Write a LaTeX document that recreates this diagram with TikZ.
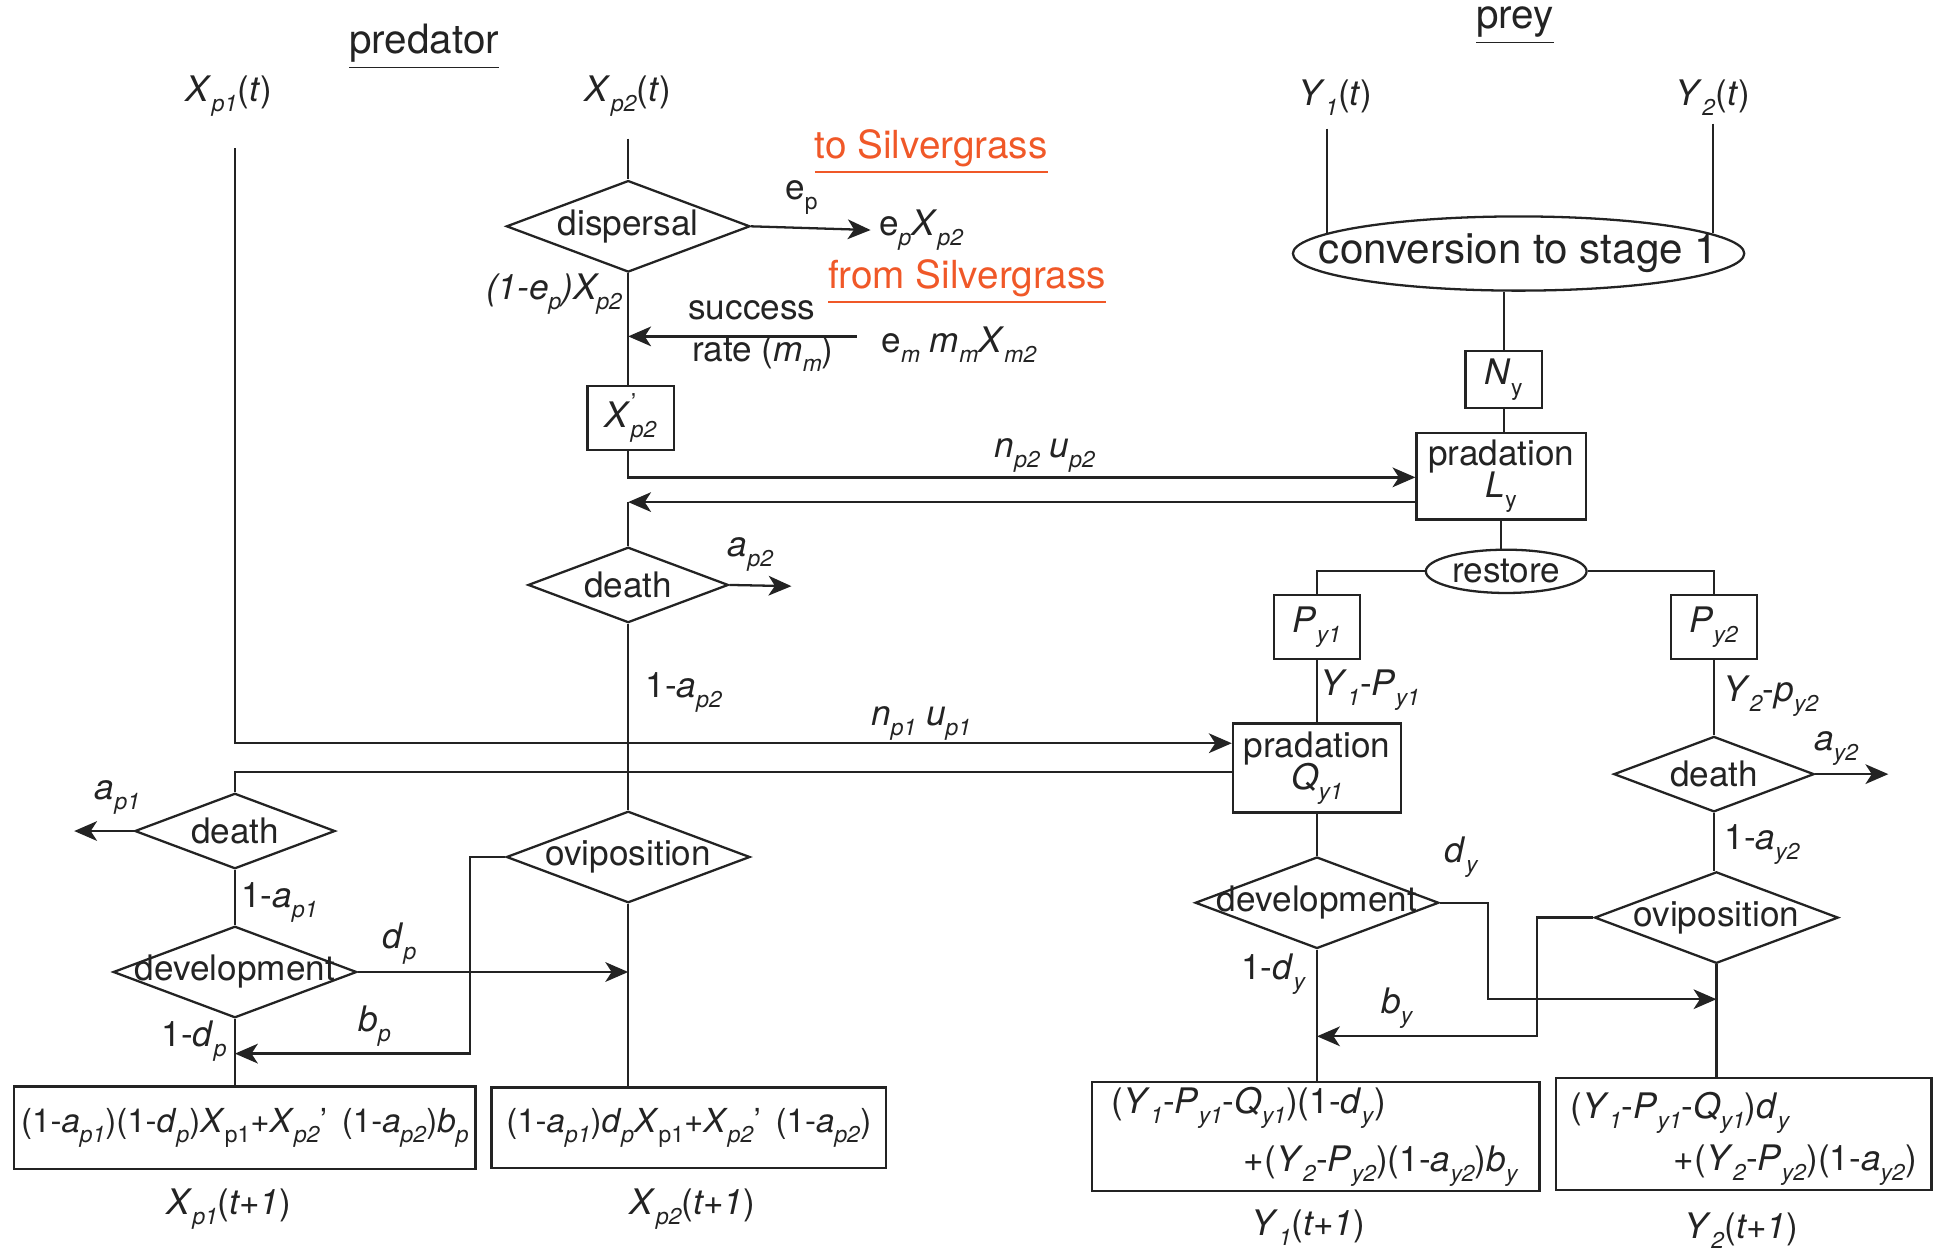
\documentclass[tikz,border=0pt]{standalone}
\usepackage{fontspec}
\setmainfont{TeX Gyre Heros}
\usetikzlibrary{shapes.geometric,arrows.meta,calc}
\newdimen\pu \pu=0.012366cm
\definecolor{silv}{RGB}{240,88,40}
\definecolor{ink}{RGB}{35,35,35}
\newcommand{\sbs}[1]{\raisebox{-0.55ex}{\fontsize{6.5}{7}\selectfont\textit{#1}}}
\newcommand{\sbu}[1]{\raisebox{-0.55ex}{\fontsize{6.5}{7}\selectfont #1}}
\newcommand{\iv}[2]{\textit{#1}\sbs{#2}}
\newcommand{\ivu}[2]{\textit{#1}\sbu{#2}}
\newcommand{\zb}[1]{\makebox[0pt]{#1}}
\newcommand{\xpr}{\textit{X}\rlap{\raisebox{0.9ex}{\fontsize{7}{8}\selectfont '}}\sbs{p2}}
\begin{document}
\begin{tikzpicture}[x=\pu,y=-\pu,line width=0.65pt,color=ink,
  every node/.style={inner sep=0pt,font=\fontsize{10}{12}\selectfont},
  bigdia/.style={diamond,draw,minimum width=197\pu,minimum height=74\pu},
  smalldia/.style={diamond,draw,minimum width=162\pu,minimum height=61\pu},
  rbox/.style={rectangle,draw},
  fbox/.style={rectangle,draw,font=\fontsize{9.4}{11}\selectfont},
  arr/.style={-{Stealth[length=6.5pt,width=5.6pt,inset=1.8pt]}},
  ttl/.style={font=\fontsize{11.5}{13}\selectfont},
  sg/.style={text=silv,font=\fontsize{11}{13}\selectfont}]
\useasboundingbox (0,0) rectangle (1568,1015);

% titles
\node[ttl] (tpred) at (343,38) {\underline{predator}};
\node[ttl] (tprey) at (1225,21) {\underline{prey}};

% initial populations
\node (xp1t) at (185,78) {\iv{X}{p1}(\textit{t})};
\node (xp2t) at (508,78) {\iv{X}{p2}(\textit{t})};
\node (y1t) at (1080,79) {\iv{Y}{1}(\textit{t})};
\node (y2t) at (1385,79) {\iv{Y}{2}(\textit{t})};
\coordinate (xp1top) at (190,120);
\coordinate (xp2top) at (508,112);
\coordinate (y1top) at (1073,104);
\coordinate (y2top) at (1385,100);

% ---------- predator stage 2 chain ----------
\node[bigdia] (disp) at (508,183) {\zb{dispersal}};
\draw (xp2top) -- (disp.north);
\node[anchor=west] (epx) at (710,186) {e\sbs{p}\iv{X}{p2}};
\draw[arr] (disp.east) -- ($(epx.west)+(-6,0)$);
\node (eplab) at (648,160) {e\sbu{p}};
\node[sg] (tosg) at (753,123) {\underline{to Silvergrass}};
\node[sg] (fromsg) at (782,228) {\underline{from Silvergrass}};
\node (oneep) at (448,238) {\textit{(1-e\sbs{p})X\sbs{p2}}};

\node[rbox,minimum width=70\pu,minimum height=52\pu] (xpp) at (510,338) {\xpr};
\draw (disp.south) -- (disp.south |- xpp.north);

\coordinate (srs) at (693,272);
\draw[arr] (srs) -- (srs -| disp.south);
\node (succ) at (608,251) {success};
\node (rate) at (617,286) {rate (\iv{m}{m})};
\node[anchor=west] (emx) at (712,279) {e\sbs{m} \iv{m}{m}\iv{X}{m2}};

% predation L
\node[rbox,minimum width=137\pu,minimum height=70\pu,align=center] (predL) at (1214,385) {pradation\\[-3pt]\ivu{L}{y}};
\draw[arr] (disp.south |- xpp.south) |- ($(predL.west)+(0,1)$);
\node (np2) at (845,368) {\iv{n}{p2} \iv{u}{p2}};
\coordinate (retp) at (508,406);
\draw[arr] ($(predL.west)+(0,21)$) -- (retp);

\node[smalldia] (dp2) at (508,473) {\zb{death}};
\draw (retp) -- (dp2.north);
\coordinate (ap2end) at (640,474);
\draw[arr] (dp2.east) -- (ap2end);
\node (ap2) at (607,448) {\iv{a}{p2}};

\node[bigdia] (ovp) at (508,693) {\zb{oviposition}};
\draw (dp2.south) -- (ovp.north);
\node (oneap2) at (553,560) {1-\iv{a}{p2}};

\node[fbox,minimum width=319\pu,minimum height=65\pu] (bx2) at (557,912) {(1-\iv{a}{p1})\iv{d}{p}\textit{X}\sbu{p1}+\textit{X}\sbs{p2}'\, (1-\iv{a}{p2})};
\draw (ovp.south) -- (ovp.south |- bx2.north);
\node (xp2n) at (560,978) {\iv{X}{p2}(\textit{t+1})};

% ---------- predator stage 1 chain ----------
\node[rbox,minimum width=136\pu,minimum height=72\pu,align=center] (predQ) at (1065,621) {pradation\\[-3pt]\iv{Q}{y1}};
\node[smalldia] (dp1) at (190,672) {\zb{death}};
\node[bigdia] (devp) at (190,786) {\zb{development}};
\draw[arr] (xp1top) |- ($(predQ.west)+(0,-20)$);
\node (np1) at (745,585) {\iv{n}{p1} \iv{u}{p1}};
\draw ($(predQ.west)+(0,3)$) -| (dp1.north);
\coordinate (ap1end) at (60,672);
\draw[arr] (dp1.west) -- (ap1end);
\node (ap1) at (95,645) {\iv{a}{p1}};
\draw (dp1.south) -- (devp.north);
\node (oneap1) at (226,730) {1-\iv{a}{p1}};

\node[fbox,minimum width=373\pu,minimum height=67\pu] (bx1) at (198,912) {(1-\iv{a}{p1})(1-\iv{d}{p})\textit{X}\sbu{p1}+\textit{X}\sbs{p2}'\, (1-\iv{a}{p2})\iv{b}{p}};
\draw (devp.south) -- (devp.south |- bx1.north);
\node (onedp) at (157,842) {1-\iv{d}{p}};
\draw[arr] (devp.east) -- (devp.east -| ovp.south);
\node (dplab) at (323,763) {\iv{d}{p}};
\coordinate (bpc) at (380,852);
\draw[arr] (ovp.west) -| (bpc) -- (bpc -| devp.south);
\node (bplab) at (303,830) {\iv{b}{p}};
\node (xp1n) at (185,978) {\iv{X}{p1}(\textit{t+1})};

% ---------- prey ----------
\node[ellipse,draw,minimum width=365\pu,minimum height=60\pu,font=\fontsize{12}{14}\selectfont] (conv) at (1228,205) {\zb{conversion to stage 1}};
\draw (y1top) -- (y1top |- conv.174);
\draw (y2top) -- (y2top |- conv.6);
\node[rbox,minimum width=62\pu,minimum height=46\pu] (Ny) at (1216,307) {\ivu{N}{y}};
\draw (Ny.north |- conv.south) -- (Ny.north);
\draw (Ny.south) -- (Ny.south |- predL.north);
\node[ellipse,draw,minimum width=130\pu,minimum height=35\pu] (rest) at (1218,462) {\zb{restore}};
\draw (predL.south) -- (predL.south |- rest.north);

\node[rbox,minimum width=70\pu,minimum height=52\pu] (Py1) at (1065,507) {\iv{P}{y1}};
\node[rbox,minimum width=70\pu,minimum height=52\pu] (Py2) at (1386,507) {\iv{P}{y2}};
\draw (rest.west) -| (Py1.north);
\draw (rest.east) -| (Py2.north);
\draw (Py1.south) -- (predQ.north);
\node (y1p) at (1108,558) {\iv{Y}{1}-\iv{P}{y1}};

\node[bigdia] (devy) at (1065,730) {\zb{development}};
\draw (predQ.south) -- (devy.north);
\node[smalldia] (dy2) at (1386,626) {\zb{death}};
\node[bigdia] (ovy) at (1388,742) {\zb{oviposition}};
\draw (Py2.south) -- (dy2.north);
\node (y2p) at (1432,563) {\iv{Y}{2}-\iv{p}{y2}};
\coordinate (ay2end) at (1527,626);
\draw[arr] (dy2.east) -- (ay2end);
\node (ay2) at (1485,605) {\iv{a}{y2}};
\draw (dy2.south) -- (dy2.south |- ovy.north);
\node (oneay2) at (1425,683) {1-\iv{a}{y2}};

\coordinate (dyc) at (1203,808);
\draw[arr] (devy.east) -| (dyc) -- (dyc -| ovy.south);
\node (dylab) at (1182,693) {\iv{d}{y}};
\coordinate (byc) at (1243,838);
\draw[arr] (ovy.west) -| (byc) -- (byc -| devy.south);
\node (bylab) at (1130,815) {\iv{b}{y}};
\node (onedy) at (1030,788) {1-\iv{d}{y}};

\node[rbox,minimum width=362\pu,minimum height=88\pu] (bxy1) at (1064,919) {};
\draw (devy.south) -- (devy.south |- bxy1.north);
\node[anchor=west] (bxy1a) at ($(bxy1.north west)+(16,22)$) {(\iv{Y}{1}-\iv{P}{y1}-\iv{Q}{y1})(1-\iv{d}{y})};
\node[anchor=east] (bxy1b) at ($(bxy1.south east)+(-17,-21)$) {+(\iv{Y}{2}-\iv{P}{y2})(1-\iv{a}{y2})\iv{b}{y}};
\node[rbox,minimum width=304\pu,minimum height=91\pu] (bxy2) at (1410,917) {};
\draw (ovy.south) -- (ovy.south |- bxy2.north);
\node[anchor=west] (bxy2a) at ($(bxy2.north west)+(12,29)$) {(\iv{Y}{1}-\iv{P}{y1}-\iv{Q}{y1})\iv{d}{y}};
\node[anchor=east] (bxy2b) at ($(bxy2.south east)+(-12,-21)$) {+(\iv{Y}{2}-\iv{P}{y2})(1-\iv{a}{y2})};
\node (y1n) at (1058,993) {\iv{Y}{1}(\textit{t+1})};
\node (y2n) at (1408,995) {\iv{Y}{2}(\textit{t+1})};
\end{tikzpicture}
\end{document}
